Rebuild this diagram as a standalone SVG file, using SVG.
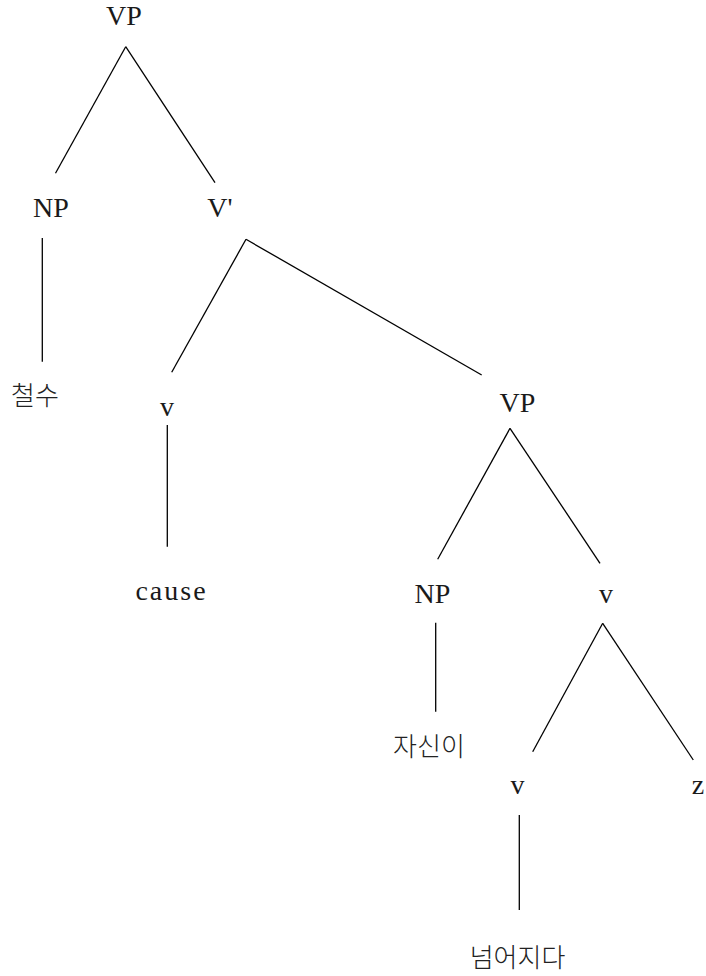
<svg xmlns="http://www.w3.org/2000/svg" width="706" height="976" viewBox="0 0 706 976">
<style>
.t{font-family:"Liberation Serif","Times New Roman","DejaVu Serif",serif;font-size:28px;fill:#1a1a1a;text-anchor:middle}
.k{font-family:"Noto Sans CJK KR",sans-serif;font-size:26px;fill:#222;text-anchor:middle;font-weight:300}
.e line{stroke:#000;stroke-width:1.3}
</style>
<rect width="706" height="976" fill="#fff"/>
<g class="e" id="edges">
<line x1="125.7" y1="46.7" x2="55.5" y2="173.3"/>
<line x1="125.7" y1="46.7" x2="215" y2="182.7"/>
<line x1="42.3" y1="238" x2="42.3" y2="361.7"/>
<line x1="246" y1="239.3" x2="171.7" y2="372.3"/>
<line x1="246" y1="239.3" x2="481.7" y2="375"/>
<line x1="167.3" y1="425" x2="167.3" y2="546.7"/>
<line x1="510" y1="428.3" x2="437.7" y2="559.3"/>
<line x1="510" y1="428.3" x2="600" y2="563.3"/>
<line x1="435.7" y1="622.7" x2="435.7" y2="711.7"/>
<line x1="602.7" y1="623.3" x2="532.7" y2="751.7"/>
<line x1="602.7" y1="623.3" x2="693.3" y2="760"/>
<line x1="519.3" y1="815" x2="519.3" y2="910"/>
</g>
<g id="n-vp1"><text class="t" x="124" y="25">VP</text></g>
<g id="n-np1"><text class="t" x="51" y="217">NP</text></g>
<g id="n-vbar"><text class="t" x="220" y="217">V'</text></g>
<g id="n-cheolsu"><text class="k" x="35" y="405">철수</text></g>
<g id="n-v1"><text class="t" x="167" y="416">v</text></g>
<g id="n-cause"><text class="t" x="171.5" y="600" letter-spacing="2">cause</text></g>
<g id="n-vp2"><text class="t" x="517.5" y="412">VP</text></g>
<g id="n-np2"><text class="t" x="432.5" y="603">NP</text></g>
<g id="n-v2"><text class="t" x="606" y="603">v</text></g>
<g id="n-jasini"><text class="k" x="429" y="756">자신이</text></g>
<g id="n-v3"><text class="t" x="517.5" y="794">v</text></g>
<g id="n-z"><text class="t" x="698" y="794">z</text></g>
<g id="n-neomeojida"><text class="k" x="517.5" y="967">넘어지다</text></g>
</svg>
